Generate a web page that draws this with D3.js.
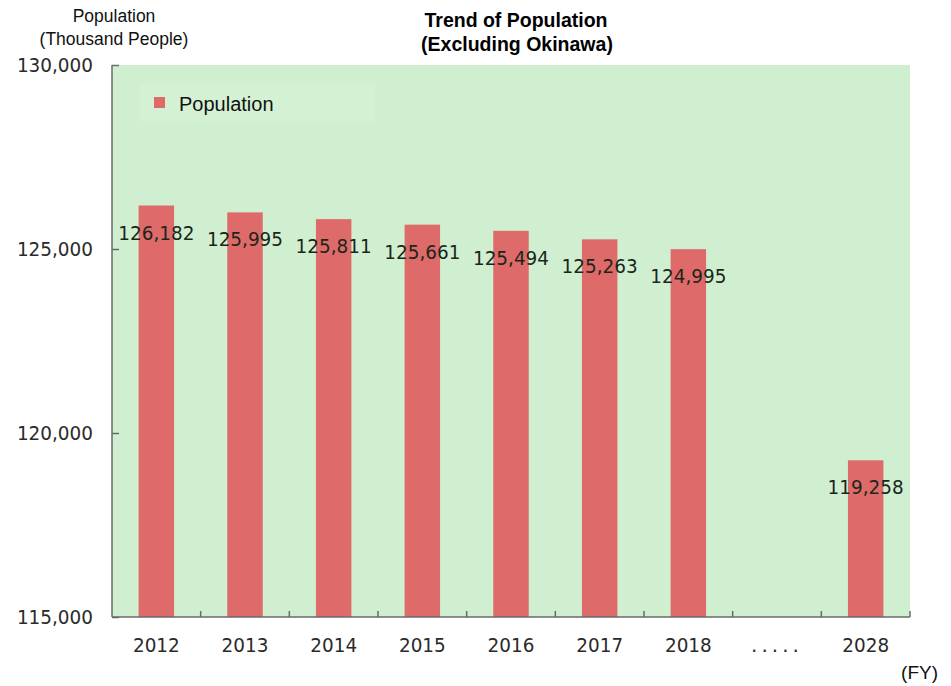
<!DOCTYPE html>
<html><head><meta charset="utf-8">
<script src="https://cdn.jsdelivr.net/npm/d3@7"></script>
<style>body{margin:0;background:#fff}svg{display:block}</style>
</head><body>
<svg id="c" width="951" height="686"></svg>
<script>
const categories = ["2012","2013","2014","2015","2016","2017","2018",".....","2028"];
const population = [126182,125995,125811,125661,125494,125263,124995,null,119258];
const yTicks = [115000,120000,125000,130000];
const title = ["Trend of Population","(Excluding Okinawa)"];
const yTitle = ["Population","(Thousand People)"];
const seriesName = "Population";
const xUnit = "(FY)";

const svg = d3.select("#c");
const L = 112, R = 910, T = 65, B = 617;
const x = d3.scaleBand().domain(categories).range([L, R]).paddingInner(0.6).paddingOuter(0.3);
const y = d3.scaleLinear().domain([115000,130000]).range([B, T]);
const num = "'DejaVu Sans', Verdana, sans-serif";
const arial = "'Liberation Sans', Arial, sans-serif";

// squeeze tall numeric text horizontally (reference glyphs are taller than wide)
function squeeze(sel, f) {
  sel.each(function() {
    const w = this.getComputedTextLength();
    if (w > 0) d3.select(this).attr("textLength", w * f).attr("lengthAdjust", "spacingAndGlyphs");
  });
}

// plot background
svg.append("rect").attr("x", L).attr("y", T).attr("width", R - L).attr("height", B - T).attr("fill", "#d0efd0");
// legend box (subtle)
svg.append("rect").attr("x", 140).attr("y", 83).attr("width", 235).attr("height", 38).attr("fill", "#d4f1d4");

// bars
const data = categories.map((c, i) => ({c, v: population[i]})).filter(d => d.v != null);
svg.selectAll("rect.bar").data(data).join("rect").attr("class", "bar")
  .attr("x", d => x(d.c)).attr("width", x.bandwidth())
  .attr("y", d => y(d.v)).attr("height", d => B - y(d.v))
  .attr("fill", "#df6a6a");

// bar labels
const lbl = svg.selectAll("text.lbl").data(data).join("text").attr("class", "lbl")
  .attr("x", d => x(d.c) + x.bandwidth() / 2).attr("y", d => y(d.v) + 34)
  .attr("text-anchor", "middle").attr("font-family", num).attr("font-size", 20)
  .attr("fill", "#1a261a").text(d => d3.format(",")(d.v));
squeeze(lbl, 0.92);

// y axis
const yAxis = d3.axisLeft(y).tickValues(yTicks).tickFormat(d3.format(",")).tickSize(-7).tickPadding(20);
const gy = svg.append("g").attr("transform", `translate(${L},0)`).call(yAxis);
gy.select(".domain").attr("stroke", "#6a6a6a").attr("stroke-width", 1.5).attr("d", `M0,${T}V${B}`);
gy.selectAll(".tick line").attr("stroke", "#6a6a6a").attr("stroke-width", 1.5);
gy.selectAll(".tick text").attr("font-family", num).attr("font-size", 20).attr("fill", "#2a2a2a").attr("x", -19);
squeeze(gy.selectAll(".tick text"), 0.92);

// x axis
const xAxis = d3.axisBottom(x).tickSize(0).tickPadding(20);
const gx = svg.append("g").attr("transform", `translate(0,${B})`).call(xAxis);
gx.select(".domain").attr("stroke", "#6a6a6a").attr("stroke-width", 1.5).attr("d", `M${L},0H${R}`);
gx.selectAll(".tick text").attr("font-family", num).attr("font-size", 20).attr("fill", "#2a2a2a")
  .attr("dy", "0.71em").attr("y", 21)
  .attr("letter-spacing", d => d === "....." ? "4px" : null);
squeeze(gx.selectAll(".tick text").filter(d => d !== "....."), 0.92);
// boundary ticks
const step = x.step();
const bounds = categories.map((c, i) => x(c) + x.bandwidth() + (step - x.bandwidth()) / 2);
svg.append("g").selectAll("line").data(bounds).join("line")
  .attr("x1", d => d).attr("x2", d => d).attr("y1", B).attr("y2", B - 6)
  .attr("stroke", "#6a6a6a").attr("stroke-width", 1.5);

// titles
svg.append("text").attr("x", 516).attr("y", 27).attr("text-anchor", "middle")
  .attr("font-family", arial).attr("font-weight", "bold").attr("font-size", 19.5).attr("fill", "#000").text(title[0]);
svg.append("text").attr("x", 517).attr("y", 51).attr("text-anchor", "middle")
  .attr("font-family", arial).attr("font-weight", "bold").attr("font-size", 19.5).attr("fill", "#000").text(title[1]);
svg.append("text").attr("x", 114).attr("y", 22).attr("text-anchor", "middle")
  .attr("font-family", arial).attr("font-size", 17.5).attr("fill", "#111").text(yTitle[0]);
svg.append("text").attr("x", 114).attr("y", 45).attr("text-anchor", "middle")
  .attr("font-family", arial).attr("font-size", 17.5).attr("fill", "#111").text(yTitle[1]);
svg.append("text").attr("x", 938).attr("y", 679).attr("text-anchor", "end")
  .attr("font-family", arial).attr("font-size", 19).attr("fill", "#111").text(xUnit);

// legend
svg.append("rect").attr("x", 154).attr("y", 97).attr("width", 11).attr("height", 11).attr("fill", "#df6a6a");
svg.append("text").attr("x", 179).attr("y", 111).attr("font-family", arial).attr("font-size", 20)
  .attr("fill", "#111").text(seriesName);
</script>
</body></html>
